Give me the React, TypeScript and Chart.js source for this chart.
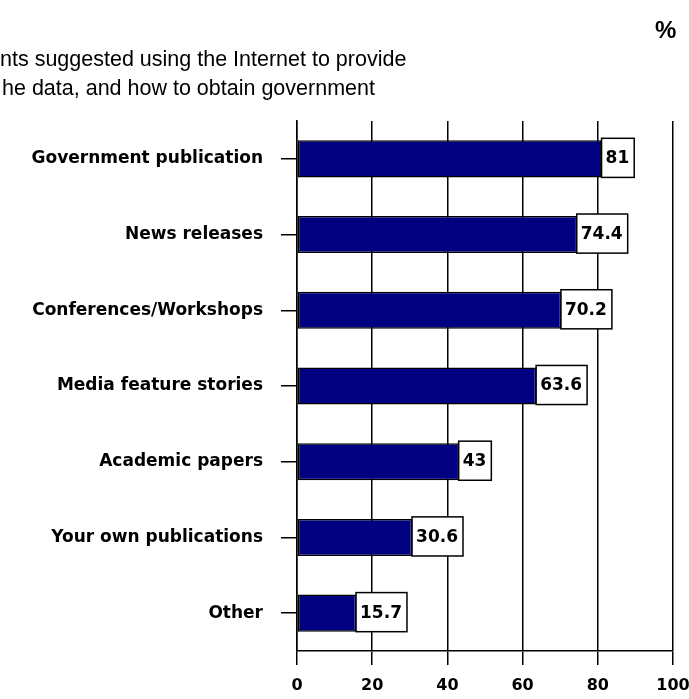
import React, { useEffect, useRef } from "react";
import { Chart, registerables } from "chart.js";

Chart.register(...registerables);

const categories = [
  "Government publication",
  "News releases",
  "Conferences/Workshops",
  "Media feature stories",
  "Academic papers",
  "Your own publications",
  "Other",
];
const values = [81, 74.4, 70.2, 63.6, 43, 30.6, 15.7];
const xTicks = [0, 20, 40, 60, 80, 100];
const titleLines = [
  "nts suggested using the Internet to provide",
  "he data, and how to obtain government",
];
const unitLabel = "%";

const W = 689;
const H = 699;
const FONT_FAMILY = "'DejaVu Sans'";
const LABEL_FONT = "bold 17px 'DejaVu Sans'";

const overlayPlugin = {
  id: "overlay",
  beforeDraw(chart: any) {
    const ctx = chart.ctx;
    ctx.save();
    ctx.fillStyle = "#ffffff";
    ctx.fillRect(0, 0, chart.width, chart.height);
    ctx.fillStyle = "#000000";
    ctx.font = "21.5px 'Liberation Sans'";
    ctx.textBaseline = "alphabetic";
    ctx.textAlign = "left";
    ctx.fillText(titleLines[0], 0, 66);
    ctx.fillText(titleLines[1], 2, 95);
    ctx.font = "bold 24px 'Liberation Sans'";
    ctx.fillText(unitLabel, 655, 38);
    ctx.restore();
  },
  afterDatasetsDraw(chart: any) {
    const ctx = chart.ctx;
    const meta = chart.getDatasetMeta(0);
    ctx.save();
    ctx.font = LABEL_FONT;
    ctx.textBaseline = "middle";
    ctx.textAlign = "left";
    meta.data.forEach((bar: any, i: number) => {
      const txt = String(values[i]);
      const tw = ctx.measureText(txt).width;
      const bx = bar.x;
      const h = bar.height + 2;
      const by = bar.y - h / 2 - 1;
      const bw = tw + 9;
      ctx.fillStyle = "#ffffff";
      ctx.fillRect(bx, by, bw, h);
      ctx.strokeStyle = "#000000";
      ctx.lineWidth = 1.5;
      ctx.strokeRect(bx, by, bw, h);
      ctx.fillStyle = "#000000";
      ctx.fillText(txt, bx + 4, bar.y);
    });
    ctx.restore();
  },
};

export default function App() {
  const ref = useRef<HTMLCanvasElement | null>(null);
  useEffect(() => {
    if (!ref.current) return;
    const chart = new Chart(ref.current, {
      type: "bar",
      data: {
        labels: categories,
        datasets: [
          {
            data: values,
            backgroundColor: "#000080",
            borderColor: "#000000",
            borderWidth: 1.5,
            borderSkipped: false,
            barPercentage: 0.49,
            categoryPercentage: 1,
          },
        ],
      },
      options: {
        indexAxis: "y",
        responsive: false,
        animation: false,
        layout: { padding: { top: 121, right: 16, left: 0, bottom: 0 } },
        plugins: {
          legend: { display: false },
          tooltip: { enabled: false },
          title: { display: false },
        },
        scales: {
          x: {
            min: 0,
            max: 100,
            afterBuildTicks(scale: any) {
              scale.ticks = xTicks.map((v) => ({ value: v }));
            },
            afterFit(scale: any) {
              scale.height = H - 651;
              scale.paddingRight = 0;
              scale.paddingLeft = 0;
            },
            grid: {
              color: "#000000",
              lineWidth: 1.5,
              tickLength: 14,
              drawTicks: true,
            },
            border: { display: true, color: "#000000", width: 1.5 },
            ticks: {
              color: "#000000",
              font: { family: FONT_FAMILY, size: 16, weight: "bold" },
              padding: 11,
              maxRotation: 0,
            },
          },
          y: {
            afterFit(scale: any) {
              scale.width = 297;
            },
            grid: {
              drawOnChartArea: false,
              drawTicks: true,
              tickLength: 16,
              offset: false,
              color: "#000000",
              lineWidth: 1.5,
            },
            border: { display: true, color: "#000000", width: 1.5 },
            ticks: {
              color: "#000000",
              font: { family: FONT_FAMILY, size: 17, weight: "bold" },
              padding: 18,
              autoSkip: false,
            },
          },
        },
      },
      plugins: [overlayPlugin],
    } as any);
    return () => chart.destroy();
  }, []);
  return (
    <div style={{ position: "absolute", left: 0, top: 0, width: W, height: H }}>
      <canvas ref={ref} width={W} height={H} style={{ display: "block" }} />
    </div>
  );
}
